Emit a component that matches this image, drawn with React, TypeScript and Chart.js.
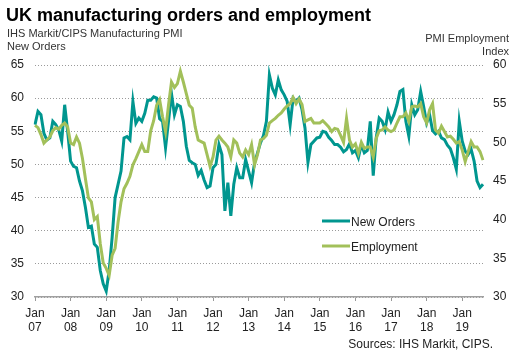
import React, { useEffect, useRef } from 'react';
import { Chart, registerables } from 'chart.js';

Chart.register(...registerables);

// ---- Text ----
const TITLE = 'UK manufacturing orders and employment';
const LEFT_TITLE = ['IHS Markit/CIPS Manufacturing PMI', 'New Orders'];
const RIGHT_TITLE = ['PMI Employment', 'Index'];
const SOURCE = 'Sources: IHS Markit, CIPS.';

// ---- Categories (monthly, Jan 2007 .. Aug 2019) ----
const monthNames = ['Jan', 'Feb', 'Mar', 'Apr', 'May', 'Jun', 'Jul', 'Aug', 'Sep', 'Oct', 'Nov', 'Dec'];
const yearLabels = ['07', '08', '09', '10', '11', '12', '13', '14', '15', '16', '17', '18', '19'];

// ---- Series ----
const newOrders = [
  56, 58, 57.5, 54.7, 53.7, 54, 56.5, 56, 55.2, 53.5, 59, 55,
  50.5, 49.7, 49.5, 47.5, 46, 43.5, 40.5, 40.7, 38, 37.5, 34, 32,
  30.9, 34, 39, 45, 47, 49, 54, 54.2, 53.7, 59.5, 56.2, 57,
  56.5, 57.7, 59.7, 59.7, 60.2, 60, 56.9, 56.5, 52.5, 56.5, 60.7, 57.5,
  59, 58.75, 56.5, 52.75, 50.6, 50.25, 50, 48.35, 49.1, 47.65, 46.5, 46.75,
  49.5, 50, 53, 51.5, 43, 47.25, 42.25, 47, 49.5, 48, 48, 50.75,
  49, 47.25, 50.25, 51.75, 53.25, 54.35, 56.5, 63.5, 61.5, 60.5, 62.75, 61.25,
  60.5, 59.5, 56, 60, 59.5, 60, 58.25, 55.5, 50.3, 53, 53.5, 54,
  54.1, 55, 54.85, 54.1, 53.6, 53, 53, 52.6, 51.9, 52.25, 53.1, 51.75,
  52.1, 51, 53, 51.75, 52.1, 56.5, 48.3, 54, 57, 56.5, 55.25, 57.9,
  56.5, 57.5, 59, 61, 61.3, 56.5, 54.25, 59, 57.5, 58.25, 61, 58.75,
  56.25, 57.5, 55.1, 54.6, 55, 54, 53.75, 52.9, 52.35, 51, 49.3, 56.5,
  53.5, 52, 51.5, 52.3, 50.5, 47.5, 46.5, 47,
];

const employment = [
  52.2, 51.9, 51, 49.9, 50.3, 50.7, 51.5, 51.9, 51.7, 52.2, 52.5, 52,
  49.9, 49.7, 50.7, 49.9, 47.9, 45.3, 42.8, 42.3, 40, 40.4, 36.9, 34.4,
  33.7, 32.8, 35.4, 36.3, 39.7, 42.3, 44, 44.7, 45.6, 47.1, 47.9, 48.8,
  49.7, 48.8, 48.8, 51.5, 52.8, 54.8, 55.5, 53.3, 51.4, 54.8, 57.8, 57.1,
  57.6, 59.2, 57.8, 56.3, 54.8, 54.4, 52, 50.3, 50.1, 49.9, 48.4, 46.9,
  48.1, 50.3, 50.8, 50.3, 49.9, 49.4, 48.1, 50.3, 49.9, 48.6, 48.1, 49,
  48.4, 49.7, 47.1, 48.4, 50.3, 50.5, 50.9, 52.5, 52.8, 53.1, 53.5, 53.8,
  54.3, 54.7, 55, 55.8, 55, 55.6, 54.9, 52.7, 52.9, 53.1, 52.5, 52.5,
  52.5, 52.8, 52.4, 52, 51.4, 51.8, 51.7, 50.9, 50, 53.1, 50.3, 49.4,
  49.8, 48.6, 50, 49.2, 49.4, 49.4, 48.1, 50.5, 51.5, 51.6, 52, 51.6,
  51.4, 51.6, 52.5, 53.3, 53.3, 53.8, 52.7, 54.6, 54.7, 54.6, 55, 53.3,
  52.5, 54.2, 55, 51.6, 51.2, 52.1, 51.4, 50.7, 50.8, 50.4, 49.9, 50.1,
  49, 47.5, 48.8, 50.1, 49.4, 49.4, 48.8, 47.7,
];

const categories = newOrders.map(
  (_, i) => `${monthNames[i % 12]} ${yearLabels[Math.floor(i / 12)]}`
);

const TEAL = '#00968f';
const GREEN = '#a2c05a';
const FONT = 'Arial, "Liberation Sans", sans-serif';

const annotationPlugin = {
  id: 'annotations',
  afterDraw(chart: any) {
    const ctx = chart.ctx as CanvasRenderingContext2D;
    ctx.save();
    ctx.textBaseline = 'alphabetic';
    ctx.fillStyle = '#000';
    ctx.textAlign = 'left';
    ctx.font = `bold 18px ${FONT}`;
    ctx.fillText(TITLE, 6, 21);

    ctx.fillStyle = '#333';
    ctx.font = `11px ${FONT}`;
    ctx.fillText(LEFT_TITLE[0], 7, 37);
    ctx.fillText(LEFT_TITLE[1], 7, 50);
    ctx.textAlign = 'right';
    ctx.fillText(RIGHT_TITLE[0], 509, 42);
    ctx.fillText(RIGHT_TITLE[1], 509, 55);

    ctx.font = `12px ${FONT}`;
    ctx.fillStyle = '#222';
    ctx.fillText(SOURCE, 493, 348);

    // legend
    ctx.textAlign = 'left';
    chart.data.datasets.forEach((ds: any, i: number) => {
      const y = 221 + i * 25;
      ctx.strokeStyle = ds.borderColor;
      ctx.lineWidth = 3;
      ctx.beginPath();
      ctx.moveTo(322, y);
      ctx.lineTo(350, y);
      ctx.stroke();
      ctx.fillStyle = '#222';
      ctx.fillText(ds.label, 351, y + 4.5);
    });
    ctx.restore();
  },
};

export default function App() {
  const canvasRef = useRef<HTMLCanvasElement | null>(null);

  useEffect(() => {
    if (!canvasRef.current) return;
    const chart = new Chart(canvasRef.current, {
      type: 'line',
      data: {
        labels: categories,
        datasets: [
          {
            label: 'New Orders',
            data: newOrders,
            borderColor: TEAL,
            backgroundColor: TEAL,
            borderWidth: 3,
            pointRadius: 0,
            tension: 0,
            yAxisID: 'yL',
            order: 1,
          },
          {
            label: 'Employment',
            data: employment,
            borderColor: GREEN,
            backgroundColor: GREEN,
            borderWidth: 3,
            pointRadius: 0,
            tension: 0,
            yAxisID: 'yR',
            order: 0,
          },
        ],
      },
      options: {
        responsive: false,
        animation: false,
        events: [],
        layout: { padding: { top: 65, left: 0, right: 0, bottom: 0 } },
        plugins: {
          legend: { display: false },
          tooltip: { enabled: false },
          title: { display: false },
        },
        scales: {
          x: {
            type: 'category',
            offset: false,
            afterFit: (s: any) => { s.height = 65; },
            grid: {
              display: true,
              drawOnChartArea: false,
              drawTicks: true,
              tickLength: 4,
              color: '#999',
              lineWidth: 1,
            },
            border: { display: true, color: '#a0a0a0', width: 1.5 },
            ticks: {
              autoSkip: false,
              maxRotation: 0,
              minRotation: 0,
              padding: 6,
              color: '#222',
              font: { family: FONT, size: 12, lineHeight: 1.15 },
              callback: (_v: any, i: number) => {
                if (i % 12 !== 0) return null;
                return ['Jan', yearLabels[i / 12]];
              },
            },
          },
          yL: {
            type: 'linear',
            position: 'left',
            min: 30,
            max: 65,
            afterFit: (s: any) => { s.width = 35; },
            grid: { display: true, drawOnChartArea: true, drawTicks: false, color: '#9a9a9a', lineWidth: 1 },
            border: { display: false, dash: [1, 2] },
            ticks: {
              stepSize: 5,
              padding: 11,
              color: '#222',
              font: { family: FONT, size: 12 },
            },
          },
          yR: {
            type: 'linear',
            position: 'right',
            min: 30,
            max: 60,
            afterFit: (s: any) => { s.width = 38; },
            grid: { display: false, drawTicks: false },
            border: { display: false },
            ticks: {
              stepSize: 5,
              padding: 10,
              color: '#222',
              font: { family: FONT, size: 12 },
            },
          },
        },
      },
      plugins: [annotationPlugin],
    });
    return () => chart.destroy();
  }, []);

  return (
    <div style={{ position: 'fixed', left: 0, top: 0, width: 521, height: 362, background: '#fff' }}>
      <canvas ref={canvasRef} width={521} height={362} style={{ display: 'block' }} />
    </div>
  );
}
